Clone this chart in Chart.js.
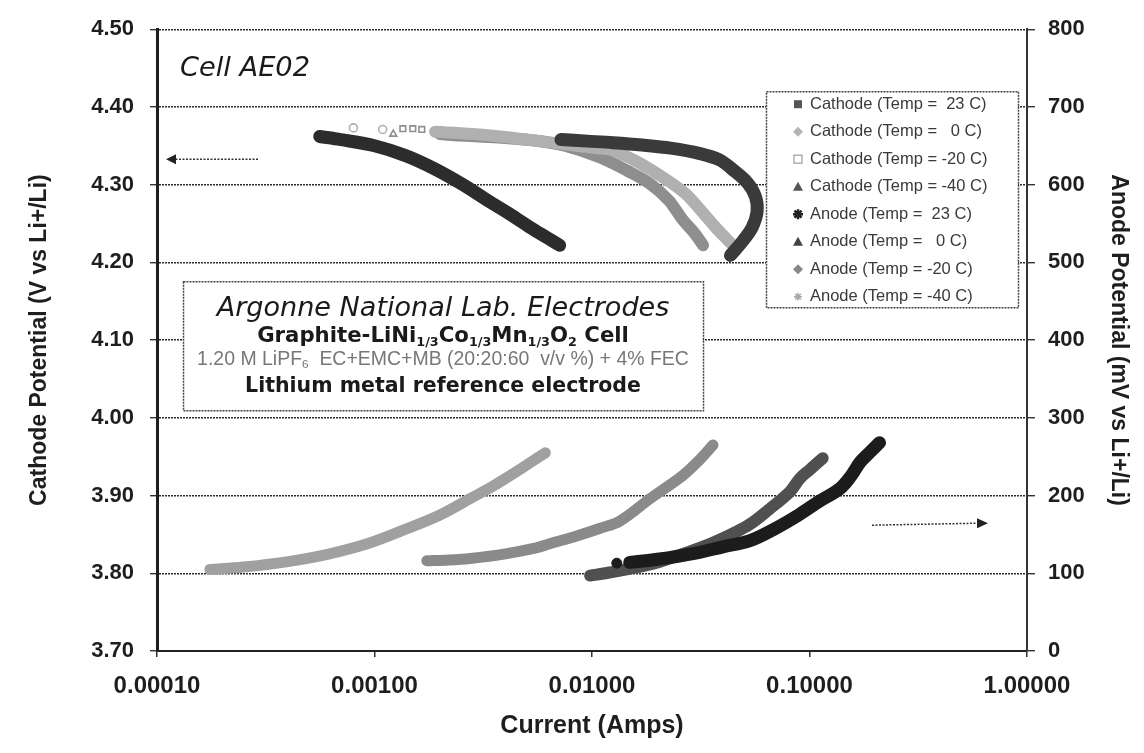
<!DOCTYPE html>
<html><head><meta charset="utf-8">
<script src="https://cdn.jsdelivr.net/npm/chart.js@4.4.1/dist/chart.umd.min.js"></script>
<style>html,body{margin:0;padding:0;background:#fff}#wrap{width:1144px;height:753px;position:relative}</style>
</head><body><div id="wrap"><canvas id="c" width="1144" height="753"></canvas></div>
<script>
// ---- tick labels / axes ----
const xTickValues = [0.0001, 0.001, 0.01, 0.1, 1];
const xTickLabels = ['0.00010', '0.00100', '0.01000', '0.10000', '1.00000'];
const leftTickValues = [3.70, 3.80, 3.90, 4.00, 4.10, 4.20, 4.30, 4.40, 4.50];
const rightTickValues = [0, 100, 200, 300, 400, 500, 600, 700, 800];

const seriesNames = [
  'Cathode (Temp =  23 C)', 'Cathode (Temp =   0 C)', 'Cathode (Temp = -20 C)', 'Cathode (Temp = -40 C)',
  'Anode (Temp =  23 C)', 'Anode (Temp =   0 C)', 'Anode (Temp = -20 C)', 'Anode (Temp = -40 C)'
];

// ---- series (current in A, cathode in V, anode in mV) ----
const cathode23X = [0.0072, 0.0095, 0.0125, 0.017, 0.023, 0.0314, 0.0385, 0.0445, 0.052, 0.0565, 0.0574, 0.0545, 0.0495, 0.0433];
const cathode23Y = [4.358, 4.356, 4.354, 4.351, 4.347, 4.340, 4.332, 4.319, 4.302, 4.284, 4.265, 4.245, 4.228, 4.209];
const cathode0X  = [0.0008, 0.00109, 0.0019, 0.0025, 0.0035, 0.005, 0.0075, 0.0105, 0.0121, 0.016, 0.0221, 0.027, 0.0314, 0.037, 0.0433];
const cathode0Y  = [4.373, 4.371, 4.368, 4.366, 4.363, 4.358, 4.352, 4.347, 4.345, 4.330, 4.306, 4.288, 4.268, 4.245, 4.225];
const cathodeM20X = [0.00122, 0.00135, 0.0015, 0.00165, 0.002, 0.003, 0.004, 0.00536, 0.0075, 0.0109, 0.0145, 0.0185, 0.0225, 0.0261, 0.0295, 0.0324];
const cathodeM20Y = [4.365, 4.372, 4.372, 4.371, 4.365, 4.362, 4.360, 4.357, 4.350, 4.335, 4.318, 4.301, 4.280, 4.255, 4.238, 4.222];
const cathodeM40X = [0.00056, 0.0007, 0.001, 0.0014, 0.0019, 0.00255, 0.0033, 0.0042, 0.0052, 0.0062, 0.0071];
const cathodeM40Y = [4.362, 4.358, 4.350, 4.337, 4.320, 4.300, 4.280, 4.262, 4.245, 4.232, 4.222];

const anode23X = [0.013, 0.0149, 0.02, 0.03, 0.04, 0.0532, 0.07, 0.0903, 0.11, 0.138, 0.155, 0.171, 0.19, 0.21];
const anode23Y = [113, 114, 118, 126, 134, 142, 158, 176, 192, 209, 225, 243, 256, 268];
const anode0X  = [0.0098, 0.012, 0.015, 0.02, 0.0262, 0.035, 0.045, 0.0532, 0.065, 0.0813, 0.0903, 0.1, 0.115];
const anode0Y  = [97, 101, 106, 114, 125, 138, 152, 163, 182, 205, 222, 233, 248];
const anodeM20X = [0.00174, 0.0022, 0.00275, 0.004, 0.0056, 0.0064, 0.0085, 0.0109, 0.0134, 0.0185, 0.0262, 0.031, 0.036];
const anodeM20Y = [116, 117, 119, 125, 133, 138, 148, 158, 167, 196, 226, 245, 265];
const anodeM40X = [0.000175, 0.00025, 0.0004, 0.0006, 0.00095, 0.0014, 0.002, 0.00275, 0.0034, 0.0039, 0.0048, 0.0061];
const anodeM40Y = [105, 108, 115, 124, 139, 157, 175, 196, 210, 220, 236, 255];

const pts = (xs, ys) => xs.map((x, i) => ({x, y: ys[i]}));

// style per series: colour, line width, axis, number of sparse leading marker-only points, their shapes
const styles = [
  {c: '#3a3a3a', w: 13, axis: 'y', sparse: 0},
  {c: '#b0b0b0', w: 12, axis: 'y', sparse: 2, shapes: ['circle', 'circle'], open: true},
  {c: '#8e8e8e', w: 12, axis: 'y', sparse: 4, shapes: ['triangle', 'rect', 'rect', 'rect'], open: true},
  {c: '#2c2c2c', w: 13, axis: 'y', sparse: 0},
  {c: '#1c1c1c', w: 13, axis: 'y2', sparse: 1, shapes: ['circle'], open: false},
  {c: '#505050', w: 12, axis: 'y2', sparse: 0},
  {c: '#8a8a8a', w: 11, axis: 'y2', sparse: 0},
  {c: '#a0a0a0', w: 11, axis: 'y2', sparse: 0}
];
const seriesData = [
  pts(cathode23X, cathode23Y), pts(cathode0X, cathode0Y), pts(cathodeM20X, cathodeM20Y), pts(cathodeM40X, cathodeM40Y),
  pts(anode23X, anode23Y), pts(anode0X, anode0Y), pts(anodeM20X, anodeM20Y), pts(anodeM40X, anodeM40Y)
];
const datasets = seriesData.map((d, i) => {
  const st = styles[i];
  return {
    label: seriesNames[i], data: d, yAxisID: st.axis, showLine: true,
    borderColor: st.c, backgroundColor: st.c, borderWidth: st.w,
    tension: 0.35, borderCapStyle: 'round', borderJoinStyle: 'round',
    segment: {borderColor: c => (c.p0DataIndex < st.sparse ? 'rgba(0,0,0,0)' : undefined)},
    pointRadius: c => (c.dataIndex < st.sparse ? (st.open ? 4 : 5) : 0),
    pointStyle: c => (c.dataIndex < st.sparse ? st.shapes[c.dataIndex] : 'circle'),
    pointBackgroundColor: st.open ? 'rgba(255,255,255,0)' : st.c,
    pointBorderColor: st.c, pointBorderWidth: st.open ? 1.6 : 1
  };
});

const tickFont = {family: 'Liberation Sans', weight: 'bold', size: 22};
const xTickFont = {family: 'Liberation Sans', weight: 'bold', size: 24};
const titleFont = {family: 'Liberation Sans', weight: 'bold', size: 23};
const ink = '#1e1e1e';

function marker(ctx, kind, x, y, col) {
  ctx.save();
  ctx.fillStyle = col; ctx.strokeStyle = col; ctx.lineWidth = 1.5;
  ctx.beginPath();
  if (kind === 'square') { ctx.fillRect(x - 4, y - 4, 8, 8); }
  else if (kind === 'osquare') { ctx.strokeRect(x - 4, y - 4, 8, 8); }
  else if (kind === 'diamond') { ctx.moveTo(x, y - 5); ctx.lineTo(x + 5, y); ctx.lineTo(x, y + 5); ctx.lineTo(x - 5, y); ctx.closePath(); ctx.fill(); }
  else if (kind === 'triangle') { ctx.moveTo(x, y - 5); ctx.lineTo(x + 5, y + 4); ctx.lineTo(x - 5, y + 4); ctx.closePath(); ctx.fill(); }
  else if (kind === 'star') { ctx.lineWidth = 2.5; for (let a = 0; a < 4; a++) { const t = a * Math.PI / 4; ctx.moveTo(x - 5 * Math.cos(t), y - 5 * Math.sin(t)); ctx.lineTo(x + 5 * Math.cos(t), y + 5 * Math.sin(t)); } ctx.stroke(); }
  else if (kind === 'cross') { ctx.lineWidth = 1.5; for (let a = 0; a < 4; a++) { const t = a * Math.PI / 4; ctx.moveTo(x - 4 * Math.cos(t), y - 4 * Math.sin(t)); ctx.lineTo(x + 4 * Math.cos(t), y + 4 * Math.sin(t)); } ctx.stroke(); }
  ctx.restore();
}
const legendMarkers = [
  ['square', '#555'], ['diamond', '#b5b5b5'], ['osquare', '#b0b0b0'], ['triangle', '#555'],
  ['star', '#222'], ['triangle', '#444'], ['diamond', '#888'], ['cross', '#aaa']
];

function fitFont(ctx, text, style, family, targetW, base) {
  ctx.font = `${style} ${base}px ${family}`;
  const w = ctx.measureText(text).width;
  return base * targetW / w;
}
function drawRich(ctx, segs, cx, cy, style, family, size, color, targetW) {
  const subSize = size * 0.6;
  const measure = (s) => { ctx.font = `${style} ${s.sub ? subSize : size}px ${family}`; return ctx.measureText(s.t).width; };
  let total = segs.reduce((a, s) => a + measure(s), 0);
  const k = targetW ? targetW / total : 1;
  const sz = size * k, ssz = subSize * k;
  total = segs.reduce((a, s) => { ctx.font = `${style} ${s.sub ? ssz : sz}px ${family}`; return a + ctx.measureText(s.t).width; }, 0);
  let x = cx - total / 2;
  ctx.fillStyle = color; ctx.textBaseline = 'middle'; ctx.textAlign = 'left';
  segs.forEach(s => {
    ctx.font = `${style} ${s.sub ? ssz : sz}px ${family}`;
    ctx.fillText(s.t, x, s.sub ? cy + sz * 0.3 : cy);
    x += ctx.measureText(s.t).width;
  });
}

const annot = {
  id: 'annot',
  beforeDatasetsDraw(chart) {
    const {ctx, chartArea: ca} = chart;
    ctx.save();
    ctx.fillStyle = '#fff';
    ctx.strokeStyle = '#444'; ctx.lineWidth = 1.5; ctx.setLineDash([2, 1]);
    const lx = ca.left + 609, ly = ca.top + 62, lw = 252, lh = 216;
    ctx.fillRect(lx, ly, lw, lh); ctx.strokeRect(lx + 0.5, ly + 0.5, lw, lh);
    const bx = ca.left + 26, by = ca.top + 252, bw = 520, bh = 129;
    ctx.fillRect(bx, by, bw, bh); ctx.strokeRect(bx + 0.5, by + 0.5, bw, bh);
    ctx.restore();
  },
  afterDatasetsDraw(chart) {
    const {ctx, chartArea: ca} = chart;
    ctx.save();
    const lx = ca.left + 609, ly = ca.top + 62;
    seriesNames.forEach((n, i) => {
      const y = ly + 13 + i * 27.5;
      marker(ctx, legendMarkers[i][0], lx + 32, y, legendMarkers[i][1]);
      ctx.font = '16.5px "Liberation Sans"'; ctx.fillStyle = '#3a3a3a';
      ctx.textAlign = 'left'; ctx.textBaseline = 'middle';
      ctx.fillText(n, lx + 44, y);
    });
    const cx = ca.left + 286;
    const t1 = 'Argonne National Lab. Electrodes';
    const s1 = fitFont(ctx, t1, 'italic', '"DejaVu Sans"', 453, 22);
    ctx.font = `italic ${s1}px "DejaVu Sans"`; ctx.fillStyle = '#1a1a1a'; ctx.textAlign = 'center'; ctx.textBaseline = 'middle';
    ctx.fillText(t1, cx, ca.top + 280);
    drawRich(ctx, [{t: 'Graphite-LiNi'}, {t: '1/3', sub: true}, {t: 'Co'}, {t: '1/3', sub: true}, {t: 'Mn'}, {t: '1/3', sub: true}, {t: 'O'}, {t: '2', sub: true}, {t: ' Cell'}],
      cx, ca.top + 307, 'bold', '"DejaVu Sans"', 19, '#1a1a1a', 372);
    drawRich(ctx, [{t: '1.20 M LiPF'}, {t: '6', sub: true}, {t: '  EC+EMC+MB (20:20:60  v/v %) + 4% FEC'}],
      cx, ca.top + 330, '', '"Liberation Sans"', 12, '#777', 492);
    const t4 = 'Lithium metal reference electrode';
    const s4 = fitFont(ctx, t4, 'bold', '"DejaVu Sans"', 396, 19);
    ctx.font = `bold ${s4}px "DejaVu Sans"`; ctx.fillStyle = '#1a1a1a'; ctx.textAlign = 'center'; ctx.textBaseline = 'middle';
    ctx.fillText(t4, cx, ca.top + 357);
    const t5 = 'Cell AE02';
    const s5 = fitFont(ctx, t5, 'italic', '"DejaVu Sans"', 130, 24);
    ctx.font = `italic ${s5}px "DejaVu Sans"`; ctx.textAlign = 'left'; ctx.fillStyle = '#1a1a1a';
    ctx.fillText(t5, ca.left + 23, ca.top + 40);
    ctx.strokeStyle = '#333'; ctx.lineWidth = 1.5; ctx.setLineDash([2, 1.5]);
    ctx.beginPath(); ctx.moveTo(ca.left + 101, ca.top + 130); ctx.lineTo(ca.left + 18, ca.top + 130); ctx.stroke();
    ctx.beginPath(); ctx.moveTo(ca.left + 715, ca.top + 496); ctx.lineTo(ca.left + 822, ca.top + 494); ctx.stroke();
    ctx.setLineDash([]); ctx.fillStyle = '#222';
    ctx.beginPath(); ctx.moveTo(ca.left + 9, ca.top + 130); ctx.lineTo(ca.left + 19, ca.top + 125); ctx.lineTo(ca.left + 19, ca.top + 135); ctx.closePath(); ctx.fill();
    ctx.beginPath(); ctx.moveTo(ca.left + 831, ca.top + 494); ctx.lineTo(ca.left + 820, ca.top + 489); ctx.lineTo(ca.left + 820, ca.top + 499); ctx.closePath(); ctx.fill();
    ctx.restore();
  }
};

new Chart(document.getElementById('c').getContext('2d'), {
  type: 'scatter',
  data: {datasets},
  options: {
    responsive: false, animation: false, devicePixelRatio: 1,
    layout: {padding: {top: 20, left: 0, right: 0, bottom: 0}},
    plugins: {legend: {display: false}, tooltip: {enabled: false}},
    scales: {
      x: {
        type: 'logarithmic', position: 'bottom', min: 0.0001, max: 1,
        afterBuildTicks: s => { s.ticks = xTickValues.map(v => ({value: v})); },
        afterFit: s => { s.height = 102; },
        ticks: {autoSkip: false, maxRotation: 0, padding: 15, font: xTickFont, color: ink,
          callback: (v) => { const i = xTickValues.findIndex(t => Math.abs(Math.log10(t) - Math.log10(v)) < 1e-6); return i >= 0 ? xTickLabels[i] : ''; }},
        grid: {drawOnChartArea: false, tickLength: 6, color: '#333', lineWidth: 1.5},
        border: {display: true, color: '#222', width: 2},
        title: {display: true, text: 'Current (Amps)', font: {family: 'Liberation Sans', weight: 'bold', size: 25}, color: ink, padding: {top: 0, bottom: 12}}
      },
      y: {
        position: 'left', min: 3.7, max: 4.5,
        afterBuildTicks: s => { s.ticks = leftTickValues.map(v => ({value: v})); },
        afterFit: s => { s.width = 157; },
        ticks: {padding: 16, font: tickFont, color: ink, callback: v => Number(v).toFixed(2)},
        grid: {color: '#2a2a2a', lineWidth: 1.4, tickLength: 7, tickColor: '#333'},
        border: {display: true, color: '#1e1e1e', width: 3, dash: [2, 1]},
        title: {display: true, text: 'Cathode Potential (V vs Li+/Li)', font: titleFont, color: ink, padding: {top: 26, bottom: 0}}
      },
      y2: {
        position: 'right', min: 0, max: 800,
        afterBuildTicks: s => { s.ticks = rightTickValues.map(v => ({value: v})); },
        afterFit: s => { s.width = 117; },
        ticks: {padding: 13, font: tickFont, color: ink, callback: v => String(v)},
        grid: {drawOnChartArea: false, tickLength: 8, color: '#333', lineWidth: 1.4},
        border: {display: true, color: '#333', width: 2},
        title: {display: true, text: 'Anode Potential (mV vs Li+/Li)', font: titleFont, color: ink, padding: {top: 12, bottom: 0}}
      }
    }
  },
  plugins: [annot]
});
</script></body></html>
